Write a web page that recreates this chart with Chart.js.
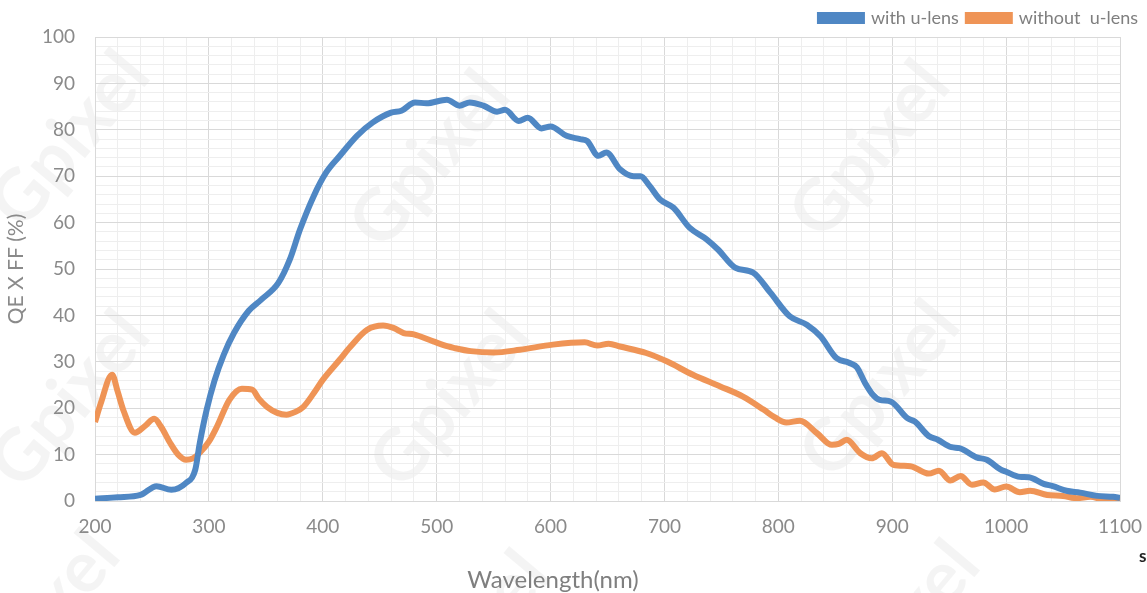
<!DOCTYPE html>
<html>
<head>
<meta charset="utf-8">
<script src="https://cdn.jsdelivr.net/npm/chart.js@4.4.0/dist/chart.umd.min.js"></script>
<style>
  html, body { margin: 0; padding: 0; background: #fff; }
  #wrap { width: 1147px; height: 593px; position: relative; }
</style>
</head>
<body>
<div id="wrap"><canvas id="myChart"></canvas></div>
<script>
// wavelength (nm) and QE x FF (%)
var wlWith = [200,220,240,254,267,280,288,292,298,305,313,322,335,346,361,371,380,392,403,415,430,444,460,469,481,491,509,520,529,541,553,560,572,580,592,600,614,626,632,642,649,661,673,679,687,696,708,722,737,747,762,778,793,810,825,837,851,862,869,876,883,889,899,913,920,932,940,952,959,974,983,995,1000,1012,1020,1033,1041,1053,1065,1080,1094,1100];
var qeWith = [0.5,0.8,1.3,3.2,2.4,3.9,6.7,12.5,19.6,26,31.5,36.2,41,43.4,47,52,58.5,65.7,70.8,74.4,78.7,81.6,83.7,84.1,85.9,85.7,86.5,85.2,85.9,85.2,83.9,84.3,81.9,82.6,80.3,80.7,78.7,78,77.6,74.4,75.1,71.5,70,70,67.9,65,63.2,58.9,56.4,54.2,50.3,49.2,44.9,39.8,38,35.5,30.8,29.8,28.8,25.5,22.9,21.8,21.4,17.9,17.1,14,13.2,11.6,11.4,9.4,8.9,6.8,6.3,5.2,5.1,3.7,3.2,2.2,1.8,1.1,0.9,0.7];

var wlWithout = [200,205,215,220,225,235,244,252,258,266,273,280,286,292,300,307,318,329,338,344,351,360,368,376,383,392,400,415,424,439,453,462,471,480,497,510,515,530,550,573,602,630,641,651,661,684,702,725,749,769,787,797,807,819,834,847,853,860,872,882,891,901,916,932,941,951,960,970,980,990,1000,1012,1021,1036,1050,1062,1074,1088,1100];
var qeWithout = [17,21,27.2,23.5,19.5,14.7,16.2,17.7,16,12.5,10,8.9,9.2,10.4,12.8,16,21.8,24.2,24,22,20.3,19,18.6,19.2,20.3,23.2,26.1,30.5,33.2,36.9,37.8,37.3,36.2,35.9,34.4,33.3,33,32.3,32,32.6,33.7,34.2,33.5,33.9,33.3,31.9,30.1,27.2,24.7,22.5,19.7,18,16.9,17.3,14.6,12.1,12.3,13.2,10.3,9.2,10.3,7.8,7.5,5.9,6.5,4.4,5.4,3.5,4,2.5,3.1,1.9,2.2,1.3,1.1,0.6,0.9,0.2,0.4];

var seriesNames = ['with u-lens', 'without  u-lens'];
var xTitle = 'Wavelength(nm)';
var yTitle = 'QE X FF (%)';

function toPoints(xs, ys) {
    var pts = [];
    for (var i = 0; i < xs.length; i++) pts.push({x: xs[i], y: ys[i]});
    return pts;
}

var gray = '#8a8a8a';
var fontFam = 'Lato, "Liberation Sans", sans-serif';

// faint "Gpixel" stamp behind the plot, plus the x title placed like the original
var watermark = {
    id: 'watermark',
    beforeDraw: function(chart) {
        var c = chart.ctx;
        var spots = [[70,140],[430,160],[870,150],[70,400],[450,400],[880,390],[40,620],[470,640],[900,630]];
        c.save();
        c.fillStyle = 'rgba(0,0,0,0.045)';
        c.font = 'bold 72px ' + fontFam;
        c.textAlign = 'center';
        c.textBaseline = 'middle';
        spots.forEach(function(s) {
            c.save();
            c.translate(s[0], s[1]);
            c.rotate(-50 * Math.PI / 180);
            c.fillText('Gpixel', 0, 0);
            c.restore();
        });
        c.restore();
    },
    afterDraw: function(chart) {
        var c = chart.ctx;
        c.save();
        c.fillStyle = '#7f7f7f';
        c.font = '24px ' + fontFam;
        c.textAlign = 'center';
        c.textBaseline = 'middle';
        c.fillText(xTitle, 553, 580);
        c.fillStyle = '#222';
        c.font = 'bold 17px ' + fontFam;
        c.textAlign = 'left';
        c.fillText('s', 1139, 557);
        c.restore();
    }
};

var ctx = document.getElementById('myChart').getContext('2d');
var myChart = new Chart(ctx, {
    type: 'line',
    data: {
        datasets: [
            {
                label: seriesNames[0],
                data: toPoints(wlWith, qeWith),
                borderColor: '#4f87c4',
                backgroundColor: '#4f87c4',
                borderWidth: 6,
                pointRadius: 0,
                cubicInterpolationMode: 'monotone',
                fill: false
            },
            {
                label: seriesNames[1],
                data: toPoints(wlWithout, qeWithout),
                borderColor: '#ef9456',
                backgroundColor: '#ef9456',
                borderWidth: 6,
                pointRadius: 0,
                cubicInterpolationMode: 'monotone',
                fill: false
            }
        ]
    },
    options: {
        responsive: true,
        maintainAspectRatio: false,
        animation: false,
        layout: { padding: { left: 0, right: 0, top: 0, bottom: 0 } },
        scales: {
            x: {
                type: 'linear',
                min: 200,
                max: 1100,
                afterFit: function(s) { s.height = 92; s.paddingRight = 27; s.paddingLeft = 0; },
                ticks: {
                    stepSize: 20,
                    autoSkip: false,
                    maxRotation: 0,
                    padding: 14,
                    color: gray,
                    font: { family: fontFam, size: 19 },
                    callback: function(v) { return v % 100 === 0 ? v : ''; }
                },
                grid: {
                    drawTicks: false,
                    color: function(c) { return c.tick && c.tick.value % 100 === 0 ? '#d9d9d9' : '#eeeeee'; }
                },
                border: { color: '#d9d9d9' }
            },
            y: {
                min: 0,
                max: 100,
                afterFit: function(s) { s.width = 95; },
                ticks: {
                    stepSize: 2,
                    autoSkip: false,
                    padding: 20,
                    color: gray,
                    font: { family: fontFam, size: 19 },
                    callback: function(v) { return v % 10 === 0 ? v : ''; }
                },
                grid: {
                    drawTicks: false,
                    color: function(c) { return c.tick && c.tick.value % 10 === 0 ? '#d9d9d9' : '#eeeeee'; }
                },
                border: { color: '#d9d9d9' },
                title: {
                    display: true,
                    text: yTitle,
                    color: gray,
                    font: { family: fontFam, size: 21 },
                    padding: { top: 4, bottom: 0 }
                }
            }
        },
        plugins: {
            legend: {
                position: 'top',
                align: 'end',
                labels: {
                    boxWidth: 42,
                    boxHeight: 6,
                    padding: 9,
                    color: '#7f7f7f',
                    font: { family: fontFam, size: 18 }
                }
            },
            tooltip: { enabled: false }
        }
    },
    plugins: [watermark]
});
</script>
</body>
</html>
